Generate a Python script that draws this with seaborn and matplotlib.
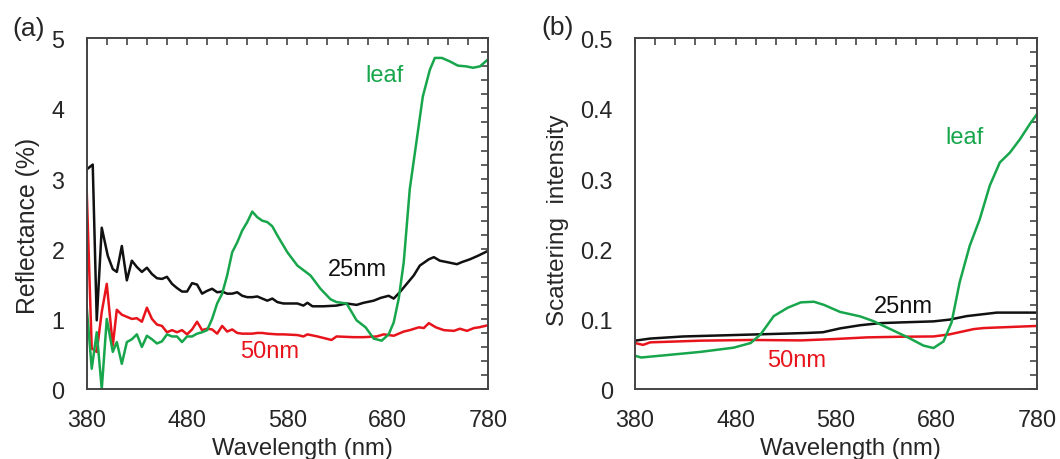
import numpy as np
import pandas as pd
import matplotlib
matplotlib.use("Agg")
from matplotlib import pyplot as plt
import seaborn as sns

# ---- (a) reflectance data ----
wl_a_25 = [380, 386, 390, 395, 401, 406, 410, 415, 420, 425, 430, 435, 440, 445, 450, 455, 460, 465,
           470, 475, 480, 485, 490, 495, 500, 505, 510, 515, 520, 525, 530, 535, 540, 545, 550, 555,
           560, 565, 570, 576, 590, 596, 600, 605, 616, 629, 639, 649, 656, 666, 673, 681, 686, 692,
           699, 706, 712, 721, 726, 732, 739, 749, 754, 762, 770, 780]
refl_25 = [3.13, 3.20, 0.98, 2.30, 1.90, 1.71, 1.67, 2.04, 1.55, 1.83, 1.74, 1.67, 1.73, 1.64, 1.58, 1.57,
           1.60, 1.50, 1.44, 1.39, 1.39, 1.51, 1.49, 1.36, 1.40, 1.43, 1.38, 1.39, 1.36, 1.36, 1.38, 1.33,
           1.31, 1.31, 1.32, 1.29, 1.26, 1.29, 1.24, 1.22, 1.22, 1.19, 1.23, 1.18, 1.18, 1.19, 1.22, 1.20,
           1.23, 1.26, 1.30, 1.33, 1.29, 1.38, 1.50, 1.62, 1.76, 1.85, 1.88, 1.83, 1.81, 1.78, 1.81, 1.85,
           1.90, 1.97]

wl_a_50 = [380, 385, 390, 395, 400, 406, 410, 415, 420, 425, 430, 435, 440, 445, 450, 455, 460, 465,
           470, 475, 480, 485, 490, 495, 500, 505, 510, 515, 520, 525, 530, 535, 540, 545, 550, 555,
           560, 570, 576, 590, 596, 600, 610, 624, 629, 646, 656, 669, 676, 686, 696, 702, 711, 716,
           721, 728, 736, 746, 752, 759, 766, 771, 780]
refl_50 = [2.83, 0.58, 0.53, 1.10, 1.50, 0.62, 1.13, 1.06, 1.03, 1.00, 1.01, 0.96, 1.16, 1.00, 0.92, 0.90,
           0.81, 0.84, 0.81, 0.84, 0.78, 0.85, 0.96, 0.84, 0.86, 0.85, 0.79, 0.90, 0.82, 0.85, 0.80, 0.79,
           0.79, 0.79, 0.80, 0.80, 0.79, 0.78, 0.78, 0.77, 0.75, 0.78, 0.75, 0.70, 0.75, 0.74, 0.74, 0.75,
           0.78, 0.76, 0.82, 0.84, 0.88, 0.87, 0.94, 0.88, 0.84, 0.83, 0.86, 0.83, 0.87, 0.88, 0.91]

wl_a_leaf = [380, 385, 390, 395, 400, 406, 410, 415, 420, 425, 430, 435, 440, 445, 450, 455, 460, 465,
             470, 475, 480, 485, 490, 495, 500, 505, 510, 515, 520, 525, 530, 535, 540, 545, 550, 555,
             560, 565, 570, 580, 590, 603, 613, 623, 629, 639, 649, 658, 666, 674, 681, 686, 691, 696,
             702, 709, 715, 722, 727, 734, 742, 750, 758, 765, 772, 780]
refl_leaf = [1.17, 0.29, 0.81, 0.00, 1.00, 0.53, 0.67, 0.36, 0.67, 0.71, 0.78, 0.60, 0.76, 0.71, 0.65, 0.68,
             0.78, 0.75, 0.75, 0.67, 0.75, 0.75, 0.79, 0.81, 0.84, 1.00, 1.22, 1.36, 1.62, 1.95, 2.09, 2.26,
             2.38, 2.53, 2.45, 2.40, 2.38, 2.32, 2.19, 1.95, 1.76, 1.62, 1.43, 1.28, 1.24, 1.22, 0.98, 0.88,
             0.72, 0.69, 0.78, 0.95, 1.29, 1.81, 2.85, 3.56, 4.17, 4.55, 4.72, 4.72, 4.67, 4.61, 4.60, 4.58,
             4.60, 4.70]

# ---- (b) scattering intensity data ----
wl_b_25 = [380, 395, 428, 478, 528, 551, 567, 584, 604, 624, 644, 677, 693, 710, 740, 780]
scat_25 = [0.069, 0.072, 0.075, 0.077, 0.079, 0.080, 0.081, 0.0865, 0.091, 0.094, 0.095, 0.0965,
           0.099, 0.104, 0.109, 0.109]

wl_b_50 = [380, 388, 395, 445, 495, 545, 578, 611, 644, 677, 693, 717, 727, 780]
scat_50 = [0.0656, 0.063, 0.0666, 0.069, 0.070, 0.0694, 0.0713, 0.0737, 0.0746, 0.075, 0.078,
           0.0855, 0.087, 0.090]

wl_b_leaf = [380, 386, 412, 445, 478, 495, 505, 518, 532, 545, 558, 568, 584, 604, 617, 634, 651,
             667, 677, 687, 695, 703, 713, 723, 733, 743, 753, 763, 773, 780]
scat_leaf = [0.0475, 0.045, 0.0485, 0.053, 0.059, 0.0656, 0.078, 0.104, 0.116, 0.1236, 0.1245, 0.120,
             0.110, 0.1036, 0.097, 0.0855, 0.074, 0.062, 0.0585, 0.068, 0.095, 0.152, 0.204, 0.242,
             0.29, 0.323, 0.337, 0.356, 0.378, 0.392]

xticks = [380, 480, 580, 680, 780]
yticks_a = [0, 1, 2, 3, 4, 5]
yticks_b = [0, 0.1, 0.2, 0.3, 0.4, 0.5]
yticklabels_b = ["0", "0.1", "0.2", "0.3", "0.4", "0.5"]

GREEN = "#17a64b"
RED = "#e8141c"
BLACK = "#111111"
SPINE = "#444444"

sns.set_style("white")
plt.rcParams["font.family"] = ["Liberation Sans", "DejaVu Sans"]
plt.rcParams["font.size"] = 17

fig = plt.figure(figsize=(10.6, 4.6), dpi=100)
ax1 = fig.add_axes([0.0818, 0.152, 0.3786, 0.7626])
ax2 = fig.add_axes([0.5991, 0.152, 0.3792, 0.7626])


def draw(ax, wl, vals, color):
    df = pd.DataFrame({"wl": wl, "v": vals})
    sns.lineplot(data=df, x="wl", y="v", ax=ax, color=color, lw=1.8,
                 estimator=None, sort=False)


draw(ax1, wl_a_25, refl_25, BLACK)
draw(ax1, wl_a_50, refl_50, RED)
draw(ax1, wl_a_leaf, refl_leaf, GREEN)
draw(ax2, wl_b_25, scat_25, BLACK)
draw(ax2, wl_b_50, scat_50, RED)
draw(ax2, wl_b_leaf, scat_leaf, GREEN)

ax1.set_ylim(0, 5)
ax2.set_ylim(0, 0.5)
ax1.set_yticks(yticks_a)
ax1.set_yticks(np.arange(0, 5.01, 0.2), minor=True)
ax2.set_yticks(yticks_b)
ax2.set_yticklabels(yticklabels_b)
ax2.set_yticks(np.arange(0, 0.501, 0.02), minor=True)

for ax in (ax1, ax2):
    ax.set_xlim(380, 780)
    ax.set_xticks(xticks)
    ax.set_xticks(np.arange(380, 781, 20), minor=True)
    ax.tick_params(which="both", direction="in", top=True, right=True,
                   length=5, width=1.2, color=SPINE, labelsize=16.8)
    ax.tick_params(axis="x", which="both", pad=13.8)
    ax.tick_params(axis="y", which="both", pad=16)
    for s in ax.spines.values():
        s.set_color(SPINE)
        s.set_linewidth(1.4)
    ax.set_xlabel("Wavelength (nm)", fontsize=17.2, labelpad=4, x=0.537)

ax1.set_ylabel("Reflectance (%)", fontsize=17.8, labelpad=8, y=0.468)
ax2.set_ylabel("Scattering  intensity", fontsize=17.5, labelpad=8, y=0.485)

ax1.text(677, 4.48, "leaf", color=GREEN, ha="center", va="center", fontsize=17)
ax1.text(650, 1.71, "25nm", color=BLACK, ha="center", va="center", fontsize=17)
ax1.text(562, 0.54, "50nm", color=RED, ha="center", va="center", fontsize=17)
ax2.text(708, 0.359, "leaf", color=GREEN, ha="center", va="center", fontsize=17)
ax2.text(647, 0.119, "25nm", color=BLACK, ha="center", va="center", fontsize=17)
ax2.text(541, 0.041, "50nm", color=RED, ha="center", va="center", fontsize=17)

fig.text(0.027, 0.937, "(a)", ha="center", va="center", fontsize=19)
fig.text(0.5264, 0.939, "(b)", ha="center", va="center", fontsize=19)

fig.savefig("out.png", dpi=100)
